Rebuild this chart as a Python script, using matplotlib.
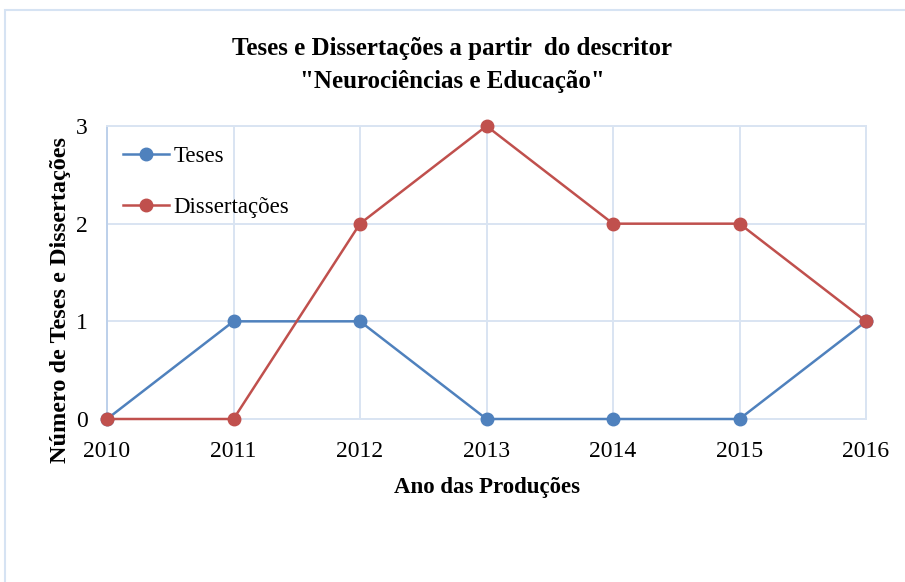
import matplotlib
matplotlib.use("Agg")
import matplotlib.pyplot as plt
from matplotlib.patches import Rectangle

years = [2010, 2011, 2012, 2013, 2014, 2015, 2016]
teses = [0, 1, 1, 0, 0, 0, 1]
dissertacoes = [0, 0, 2, 3, 2, 2, 1]
y_ticks = [0, 1, 2, 3]
title = 'Teses e Dissertações a partir  do descritor\n"Neurociências e Educação"'
xlabel = "Ano das Produções"
ylabel = "Número de Teses e Dissertações"

plt.rcParams['font.family'] = ['Liberation Serif', 'DejaVu Serif']

fig = plt.figure(figsize=(9.05, 5.82), dpi=100)
fig.patch.set_facecolor('white')
# outer chart frame (clipped at right/bottom)
fig.add_artist(Rectangle((5/905, -0.1), 1.0, 1 - 10/582 + 0.1, transform=fig.transFigure,
                         fill=False, edgecolor='#D6E3F3', linewidth=1.5))

ax = fig.add_axes([107/905, 1 - 419/582, (866 - 107)/905, (419 - 126)/582])
grid_c = '#D9E4F2'
ax.plot(years, teses, color='#4F81BD', marker='o', markersize=9, linewidth=1.8, label='Teses', zorder=3, clip_on=False)
ax.plot(years, dissertacoes, color='#C0504D', marker='o', markersize=9, linewidth=1.8, label='Dissertações', zorder=4, clip_on=False)

ax.set_xlim(years[0], years[-1])
ax.set_ylim(0, 3)
ax.set_xticks(years)
ax.set_xticklabels([str(y) for y in years], fontsize=17)
ax.set_yticks(y_ticks)
ax.set_yticklabels([str(v) for v in y_ticks], fontsize=17)
ax.tick_params(axis='x', length=0, pad=16)
ax.tick_params(axis='y', length=0, pad=14)
ax.grid(True, color=grid_c, linewidth=1.4)
for s in ['top', 'right', 'bottom']:
    ax.spines[s].set_color(grid_c)
    ax.spines[s].set_linewidth(1.4)
ax.spines['left'].set_color('#BDD0EA')
ax.spines['left'].set_linewidth(1.4)

ax.set_xlabel(xlabel, fontsize=16.5, fontweight='bold')
ax.xaxis.set_label_coords(0.5, -(498 - 419) / 293)
ax.xaxis.label.set_va('bottom')
ax.set_ylabel(ylabel, fontsize=17.5, fontweight='bold')
ax.yaxis.set_label_coords((71 - 107) / 759, (419 - 300) / 293)

fig.text(452/905, 1 - 65/582, title, ha='center', va='center', fontsize=18,
         fontweight='bold', linespacing=1.6)

leg = ax.legend(loc='upper left', bbox_to_anchor=(0.0, 0.985), frameon=False, fontsize=16.5,
                handlelength=2.0, labelspacing=1.3, handletextpad=0.2, borderaxespad=0.3)

fig.savefig('out.png', dpi=100, facecolor='white')
